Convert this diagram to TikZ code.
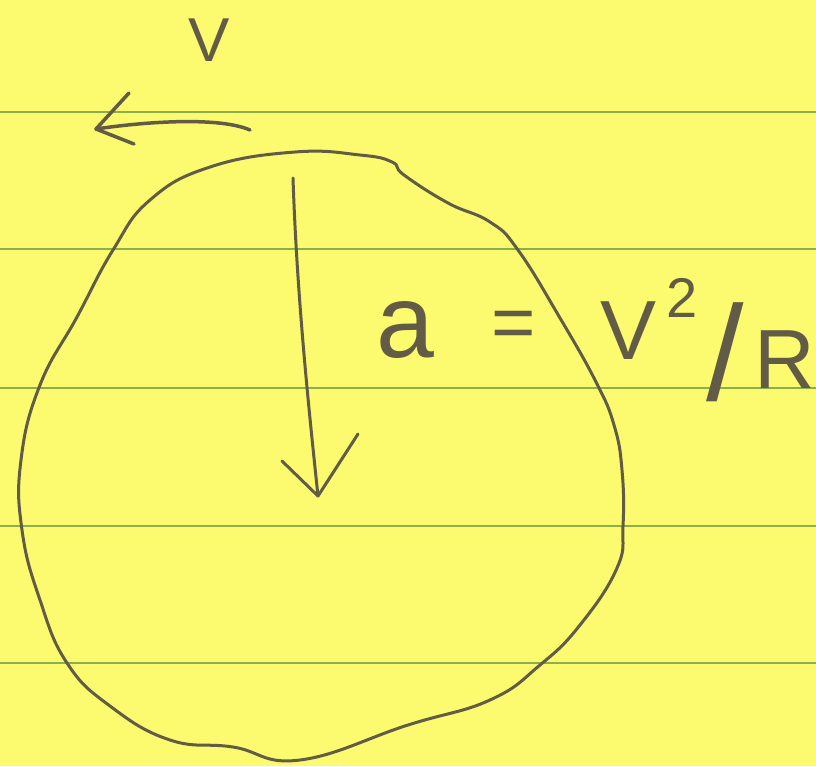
\documentclass[tikz,border=0pt]{standalone}
\usepackage{fontspec}
\setmainfont{Liberation Sans}
\definecolor{paper}{RGB}{252,250,110}
\definecolor{rule}{RGB}{140,175,75}
\definecolor{pen}{RGB}{98,92,70}
\tikzset{
  ruleline/.style={draw=rule,line width=2.2pt},
  penline/.style={draw=pen,line width=3pt,line cap=round,line join=round},
  hand/.style={text=pen,inner sep=0pt,anchor=center},
}
\begin{document}
\begin{tikzpicture}[x=1pt,y=-1pt]
\useasboundingbox (0,0) rectangle (816,766);
\fill[paper] (0,0) rectangle (816,766);
% ruled lines
\foreach \yy in {112,249,388,526,663}
  \draw[ruleline] (0,\yy) -- (816,\yy);
% orbit
\draw[penline] plot[smooth cycle,tension=0.75] coordinates {
 (295,152) (360,155) (392,162) (404,175) (448,203) (490,222) (518,250)
 (560,318) (596,382) (614,425) (622,470) (623,526) (617,568)
 (580,625) (540,665) (490,700) (408,725) (300,760) (233,747)
 (170,740) (110,706) (67,663) (40,600) (22,530) (21,460)
 (40,385) (77,317) (113,250) (150,200) (210,167)};
% velocity arrow
\coordinate (vs) at (250,130);
\coordinate (vt) at (96,129);
\coordinate (vu) at (129,93);
\coordinate (vl) at (134,144);
\draw[penline,line width=3.5pt] (vs) .. controls (220,117) and (150,121) .. (vt);
\draw[penline,line width=3.5pt] (vu) -- (vt) -- (vl);
% acceleration arrow
\coordinate (as) at (293,178);
\coordinate (at) at (318,496);
\coordinate (al) at (282,461);
\coordinate (ar) at (358,434);
\draw[penline] (as) .. controls (297,300) and (310,420) .. (at);
\draw[penline] (al) -- (at) -- (ar);
% labels
\node[hand,font=\fontsize{62}{62}\selectfont] (vlab) at (209,40) {V};
\node[hand,font=\fontsize{104}{104}\selectfont] (a) at (405,330) {a};
\node[hand,font=\fontsize{76}{76}\selectfont] (eq) at (514,330) {=};
\node[hand,font=\fontsize{84}{84}\selectfont] (v) at (629,331) {V};
\node[hand,font=\fontsize{56}{56}\selectfont] (two) at (682,298) {2};
\node[hand,font=\fontsize{135}{135}\selectfont] (sl) at (725,352) {/};
\node[hand,font=\fontsize{84}{84}\selectfont] (R) at (785,360) {R};
\end{tikzpicture}
\end{document}
